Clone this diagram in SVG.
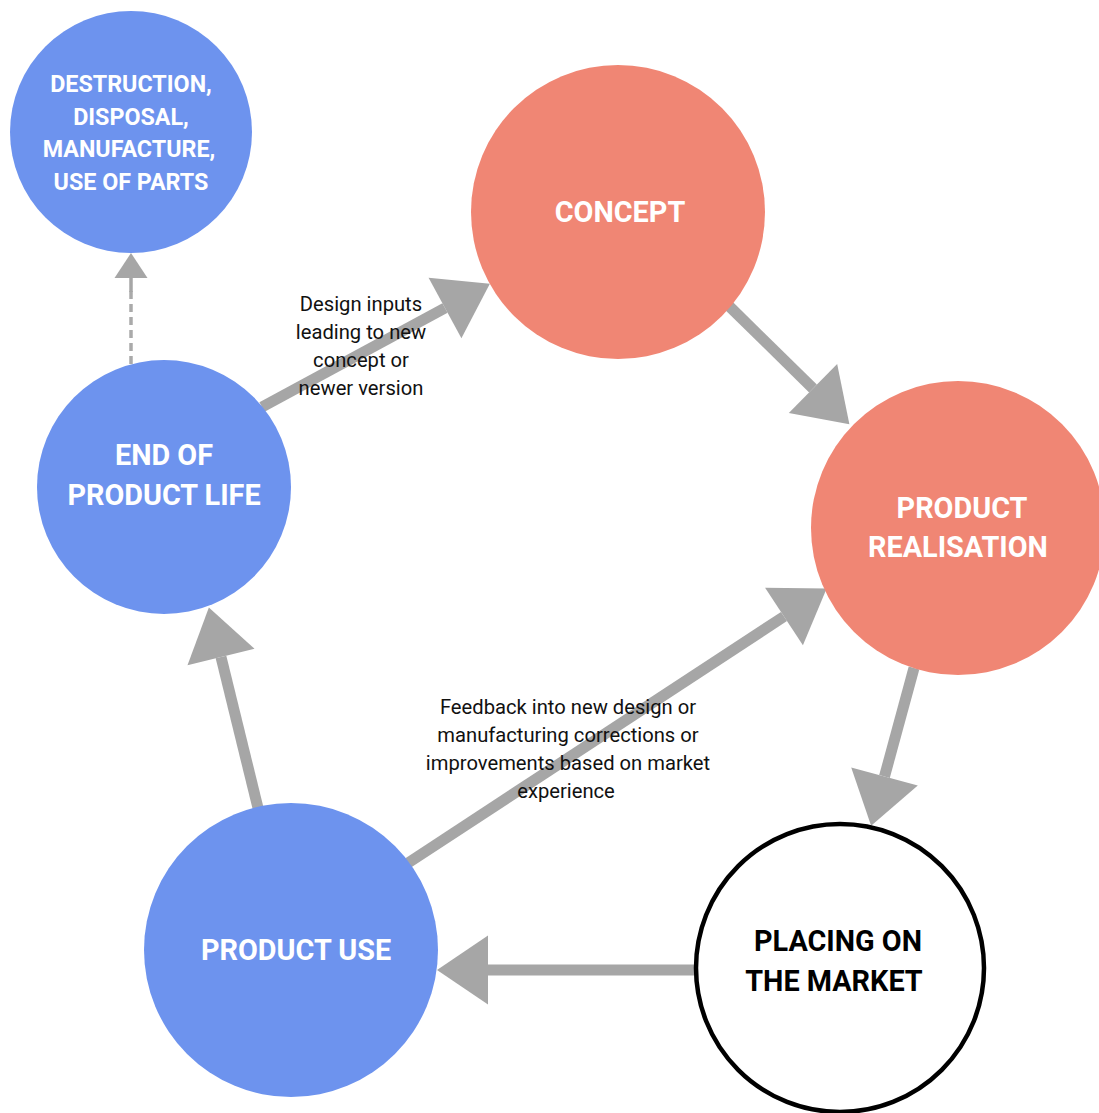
<svg xmlns="http://www.w3.org/2000/svg" width="1099" height="1113" viewBox="0 0 1099 1113">
<style>
.blue{fill:#6D93EE}
.red{fill:#F08674}
.white{fill:#FFFFFF;stroke:#000000;stroke-width:4.5}
.lbl{font-family:Roboto,"Liberation Sans",sans-serif;font-weight:bold;fill:#FFFFFF;text-anchor:middle}
.big{font-size:28.8px}
.small{font-size:23.3px}
.dark{fill:#000000}
.note{font-family:Roboto,"Liberation Sans",sans-serif;font-size:20.2px;fill:#111111;text-anchor:middle}
.conn{stroke:#A6A6A6;stroke-width:11;fill:none;marker-end:url(#head)}
.dash{stroke:#AAAAAA;stroke-width:3.5;fill:none;stroke-dasharray:8 5}
</style>
<defs>
<marker id="head" markerUnits="userSpaceOnUse" markerWidth="52" markerHeight="70" refX="0" refY="34.5" orient="auto" overflow="visible">
<path d="M0,0 L51,34.5 L0,69 Z" fill="#A6A6A6"/>
</marker>
<marker id="smallhead" markerUnits="userSpaceOnUse" markerWidth="26" markerHeight="34" refX="0" refY="16.5" orient="auto" overflow="visible">
<path d="M0,0 L25,16.5 L0,33 Z" fill="#A6A6A6"/>
</marker>
</defs>
<rect width="1099" height="1113" fill="#FFFFFF"/>
<g id="connectors">
<line class="conn" x1="262" y1="407" x2="445" y2="308"/>
<line class="conn" x1="728" y1="305" x2="813" y2="388.5"/>
<line class="conn" x1="914" y1="668" x2="884.5" y2="776.5"/>
<line class="conn" x1="694" y1="970" x2="488" y2="970"/>
<line class="conn" x1="258" y1="808" x2="221" y2="657"/>
<line class="conn" x1="408" y1="863" x2="784" y2="616.5"/>
<path class="dash" d="M131,364 L131,291"/>
<line x1="131" y1="292" x2="131" y2="278" stroke="#A6A6A6" stroke-width="3.5" marker-end="url(#smallhead)"/>
</g>
<g id="node-destruction">
<circle class="blue" cx="131" cy="132" r="121"/>
<text class="lbl small" x="131" y="92">DESTRUCTION,</text>
<text class="lbl small" x="131" y="125">DISPOSAL,</text>
<text class="lbl small" x="129" y="157">MANUFACTURE,</text>
<text class="lbl small" x="131" y="190">USE OF PARTS</text>
</g>
<g id="node-concept">
<circle class="red" cx="618" cy="212" r="147"/>
<text class="lbl big" x="620" y="222">CONCEPT</text>
</g>
<g id="node-realisation">
<circle class="red" cx="958" cy="528" r="147"/>
<text class="lbl big" x="962" y="518">PRODUCT</text>
<text class="lbl big" x="958" y="557">REALISATION</text>
</g>
<g id="node-placing">
<circle class="white" cx="840" cy="968" r="144"/>
<text class="lbl big dark" x="838" y="951">PLACING ON</text>
<text class="lbl big dark" x="834" y="991">THE MARKET</text>
</g>
<g id="node-use">
<circle class="blue" cx="291" cy="950" r="147"/>
<text class="lbl big" x="296" y="960">PRODUCT USE</text>
</g>
<g id="node-endoflife">
<circle class="blue" cx="164" cy="487" r="127"/>
<text class="lbl big" x="164" y="465">END OF</text>
<text class="lbl big" x="164" y="505">PRODUCT LIFE</text>
</g>
<g id="label-design">
<text class="note" x="361" y="311">Design inputs</text>
<text class="note" x="361" y="339">leading to new</text>
<text class="note" x="361" y="367">concept or</text>
<text class="note" x="361" y="395">newer version</text>
</g>
<g id="label-feedback">
<text class="note" x="568" y="714">Feedback into new design or</text>
<text class="note" x="568" y="742">manufacturing corrections or</text>
<text class="note" x="568" y="770">improvements based on market</text>
<text class="note" x="566" y="798">experience</text>
</g>
</svg>
